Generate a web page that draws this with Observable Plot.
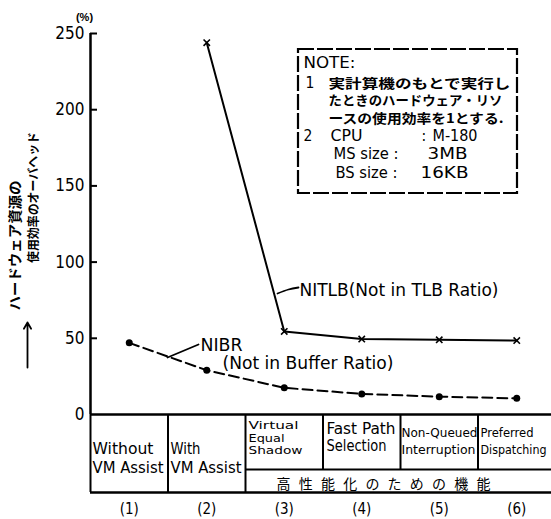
<!DOCTYPE html>
<html><head><meta charset="utf-8">
<script src="https://cdn.jsdelivr.net/npm/d3@7"></script>
<script src="https://cdn.jsdelivr.net/npm/@observablehq/plot@0.6"></script>
<style>body{margin:0;background:#fff} svg{display:block;background:#fff}</style>
</head><body><div id="chart"></div>
<script>
// ---- data ----
const categoryIndex = [1, 2, 3, 4, 5, 6];
const categoryLines = [["Without", "VM Assist"], ["With", "VM Assist"], ["Virtual", "Equal", "Shadow"], ["Fast Path", "Selection"], ["Non-Queued", "Interruption"], ["Preferred", "Dispatching"]];
const indexLabels = ["(1)", "(2)", "(3)", "(4)", "(5)", "(6)"];
const groupLabel = "高性能化のための機能";
const nitlbX = [2, 3, 4, 5, 6];
const nitlbValues = [244, 54.5, 49.5, 49, 48.5];
const nibrX = [1, 2, 3, 4, 5, 6];
const nibrValues = [47, 29, 17.5, 13.5, 11.7, 10.6];
const yTicks = [0, 50, 100, 150, 200, 250];
const yUnit = "(%)";
const yLabelLines = ["ハードウェア資源の", "使用効率のオーバヘッド"];
const nitlbLabel = "NITLB(Not in TLB Ratio)";
const nibrLabel = ["NIBR", "(Not in Buffer Ratio)"];
const noteTitle = "NOTE:";
const noteJp = ["実計算機のもとで実行し", "たときのハードウェア・リソ", "ースの使用効率を1とする."];
const noteSpec = [["CPU", "M-180"], ["MS size :", "3MB"], ["BS size :", "16KB"]];

// ---- layout ----
const NARROW = "'DejaVu Sans Condensed','Liberation Sans Narrow',sans-serif";
const SANS = "'Liberation Sans',Arial,sans-serif";
const JP = "'Noto Sans CJK JP',sans-serif";
const XR = [90, 555], YR = [414, 33];
const px = v => 0.5 + (v - XR[0]) * 6 / (XR[1] - XR[0]);
const py = v => (YR[0] - v) * 250 / (YR[0] - YR[1]);

const nitlb = nitlbX.map((x, i) => ({x, y: nitlbValues[i]}));
const nibr = nibrX.map((x, i) => ({x, y: nibrValues[i]}));

// header layout per column: [left px, first baseline px, line step px]
const headLayout = [[92, 453, 19], [170, 453, 19], [248, 428.5, 12.5], [326, 433, 17], [401, 436, 17], [480, 436, 17]];
const headSize = [15, 15, 11, 15, 12.5, 12.5];
// rendered widths (px) of text as measured in the reference
const fitWidths = new Map([
  ["Without", 61], ["VM Assist", 71], ["With", 30], ["Virtual", 50], ["Equal", 36], ["Shadow", 54],
  ["Fast Path", 69], ["Selection", 60], ["Non-Queued", 76], ["Interruption", 74], ["Preferred", 53], ["Dispatching", 66],
  [yLabelLines[0], 130], [yLabelLines[1], 131], [nitlbLabel, 199], [nibrLabel[0], 42], [nibrLabel[1], 171],
  [noteTitle, 52], [noteJp[0], 182], [noteJp[1], 174], [noteJp[2], 175],
  ["CPU", 32], ["M-180", 45], ["MS size :", 65], ["3MB", 40], ["BS size :", 62], ["16KB", 48]
]);

const headRecs = [];
categoryLines.forEach((lines, c) => {
  const [l, b, s] = headLayout[c];
  lines.forEach((t, k) => headRecs.push({x: px(l), y: py(b + k * s), t, f: headSize[c]}));
});
const groupChars = Array.from(groupLabel).map((ch, i, a) => ({x: px(383 + (i - (a.length - 1) / 2) * 22.2), y: py(488), t: ch}));

const noteLat = [
  {x: px(303), y: py(67), t: noteTitle},
  {x: px(305), y: py(87), t: "1"},
  {x: px(303), y: py(140), t: "2"},
  {x: px(330), y: py(140), t: noteSpec[0][0]},
  {x: px(421), y: py(140), t: ":"},
  {x: px(432), y: py(140), t: noteSpec[0][1]},
  {x: px(333), y: py(158), t: noteSpec[1][0]},
  {x: px(427), y: py(158), t: noteSpec[1][1]},
  {x: px(335), y: py(177), t: noteSpec[2][0]},
  {x: px(420), y: py(177), t: noteSpec[2][1]}
];
const noteJpRecs = noteJp.map((t, i) => ({x: px(328), y: py([87, 104.5, 122][i]), t}));

const chart = Plot.plot({
  width: 551, height: 519, margin: 0,
  x: {type: "linear", domain: [0.5, 6.5], range: XR, axis: null},
  y: {type: "linear", domain: [0, 250], range: YR, axis: null},
  marks: [
    // axis
    Plot.ruleX([0.5], {y1: 0, y2: 250, strokeWidth: 2.5}),
    Plot.ruleY(yTicks.filter(d => d > 0), {x1: 0.5, x2: px(97), strokeWidth: 2}),
    Plot.text(yTicks, {x: 0.5, y: d => d, text: d => String(d), textAnchor: "end", dx: -6, fontSize: 17, fontFamily: NARROW}),
    Plot.text([yUnit], {x: px(84), y: py(17), text: d => d, fontSize: 11, fontWeight: "bold", fontFamily: SANS}),
    // y label
    Plot.text([yLabelLines[0]], {x: px(15), y: py(245), text: d => d, rotate: -90, fontSize: 14, fontFamily: JP, fontWeight: "bold"}),
    Plot.text([yLabelLines[1]], {x: px(33), y: py(197), text: d => d, rotate: -90, fontSize: 12.5, fontFamily: JP, fontWeight: "bold"}),
    Plot.arrow([0], {x1: px(27), y1: py(367), x2: px(27), y2: py(322), strokeWidth: 1.8, headLength: 6}),
    // table
    Plot.ruleY([0], {x1: 0.5, x2: 6.5, strokeWidth: 2.5}),
    Plot.ruleY([py(469)], {x1: 2.5, x2: 6.5, strokeWidth: 2}),
    Plot.ruleY([py(492)], {x1: 0.5, x2: 6.5, strokeWidth: 2.5}),
    Plot.ruleX([0.5, 1.5, 2.5], {y1: 0, y2: py(492), strokeWidth: 2}),
    Plot.ruleX([3.5, 4.5, 5.5], {y1: 0, y2: py(469), strokeWidth: 2}),
    Plot.text(headRecs, {x: "x", y: "y", text: "t", fontSize: "f", textAnchor: "start", lineAnchor: "bottom", fontFamily: NARROW}),
    Plot.text(groupChars, {x: "x", y: "y", text: "t", fontSize: 14, lineAnchor: "bottom", fontFamily: JP}),
    Plot.text(categoryIndex, {x: d => d, y: py(513), text: (d, i) => indexLabels[i], fontSize: 15, lineAnchor: "bottom", fontFamily: NARROW}),
    // series
    Plot.line(nibr, {x: "x", y: "y", strokeWidth: 2, strokeDasharray: "10,5"}),
    Plot.dot(nibr, {x: "x", y: "y", r: 3.5, fill: "black"}),
    Plot.line(nitlb, {x: "x", y: "y", strokeWidth: 2}),
    Plot.dot(nitlb, {x: "x", y: "y", r: 3, symbol: "times", stroke: "black", strokeWidth: 1.6}),
    // labels
    Plot.line([[277, 293], [288, 289], [298, 287]], {x: d => px(d[0]), y: d => py(d[1]), strokeWidth: 1.8, curve: "natural"}),
    Plot.text([nitlbLabel], {x: px(299), y: py(295), text: d => d, textAnchor: "start", lineAnchor: "bottom", fontSize: 18, fontFamily: NARROW}),
    Plot.line([[167, 357], [198, 344]], {x: d => px(d[0]), y: d => py(d[1]), strokeWidth: 1.8}),
    Plot.text([nibrLabel[0]], {x: px(200), y: py(350), text: d => d, textAnchor: "start", lineAnchor: "bottom", fontSize: 18, fontFamily: NARROW}),
    Plot.text([nibrLabel[1]], {x: px(222), y: py(368), text: d => d, textAnchor: "start", lineAnchor: "bottom", fontSize: 18, fontFamily: NARROW}),
    // note box
    Plot.rect([0], {x1: px(298), x2: px(517), y1: py(49), y2: py(193), fill: "none", stroke: "black", strokeWidth: 2.2, strokeDasharray: "16,3"}),
    Plot.text(noteLat, {x: "x", y: "y", text: "t", fontSize: 15.5, fontFamily: NARROW, textAnchor: "start", lineAnchor: "bottom"}),
    Plot.text(noteJpRecs, {x: "x", y: "y", text: "t", fontSize: 13, fontFamily: JP, fontWeight: "bold", textAnchor: "start", lineAnchor: "bottom"})
  ]
});
d3.select(chart).selectAll("text").each(function () {
  const w = fitWidths.get(this.textContent);
  if (w) { this.setAttribute("textLength", w); this.setAttribute("lengthAdjust", "spacingAndGlyphs"); }
});
document.getElementById("chart").append(chart);
</script>
</body></html>
